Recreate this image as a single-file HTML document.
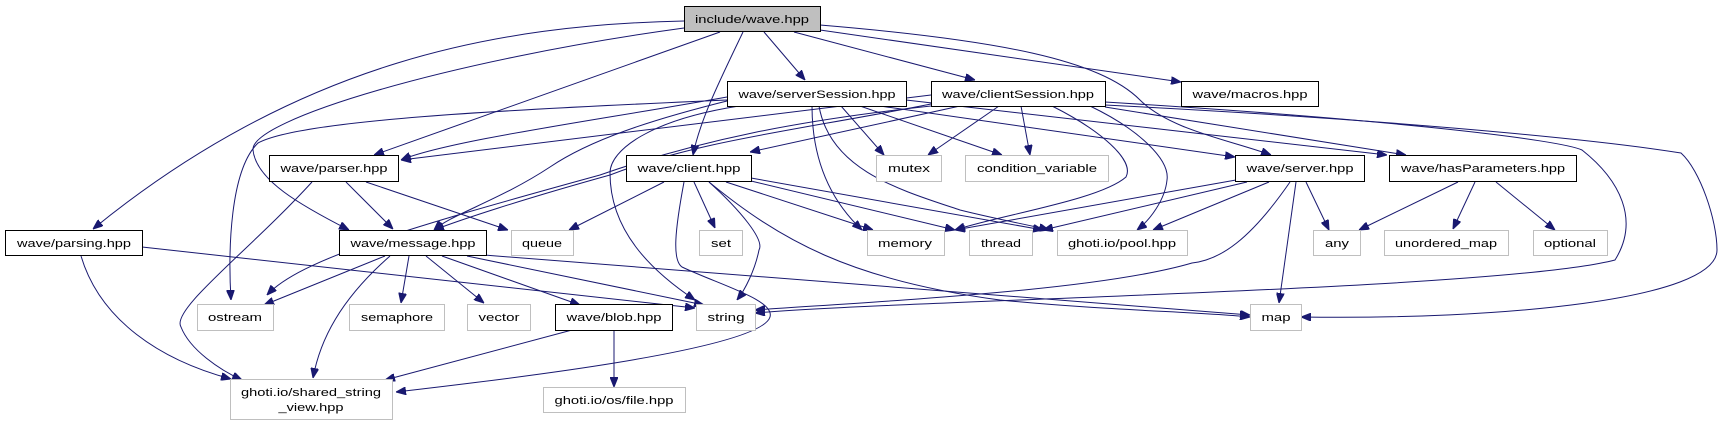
<!DOCTYPE html>
<html><head><meta charset="utf-8"><style>
html,body{margin:0;padding:0;background:#fff;}
svg{display:block;}
text{font-family:"Liberation Sans",sans-serif;font-size:11px;fill:#000;}
path{fill:none;stroke:#191970;stroke-width:1;}
</style></head><body>
<svg width="1724" height="425" viewBox="0 0 1724 425" xmlns="http://www.w3.org/2000/svg">
<defs>
<marker id="a" viewBox="0 0 10 8" refX="10" refY="4" markerWidth="10" markerHeight="8" markerUnits="userSpaceOnUse" orient="auto">
<path d="M0,0 L10,4 L0,8 Z" style="fill:#191970;stroke:#191970"/>
</marker>
</defs>
<g marker-end="url(#a)">
<!-- wave.hpp -->
<path d="M684,21 C500,25 300,60 93,229"/>
<path d="M684,28 C450,60 250,120 253,150 C256,180 300,205 349,230"/>
<path d="M720,32 L374,155"/>
<path d="M743,32 C720,80 700,120 693,155"/>
<path d="M764,32 L805,80"/>
<path d="M794,32 L975,80"/>
<path d="M820,30 L1181,82"/>
<path d="M820,25 C1000,40 1100,60 1140,100 C1170,130 1230,140 1271,155"/>
<!-- serverSession -->
<path d="M727,97 C600,120 450,140 401,160"/>
<path d="M731,100 C650,120 590,140 550,167 C500,200 450,215 434,230"/>
<path d="M727,100 C500,110 300,120 258,143 C230,170 228,250 231,300"/>
<path d="M739,106 C650,120 610,150 610,173 C610,230 650,270 695,300"/>
<path d="M841,106 L884,155"/>
<path d="M860,106 L1002,155"/>
<path d="M812,106 C812,160 830,200 862,230"/>
<path d="M819,106 C830,170 900,190 960,210 C1000,220 1030,225 1049,230"/>
<path d="M880,106 L1235,157"/>
<path d="M906,100 L1387,155"/>
<path d="M906,96 C1200,110 1400,120 1560,140 C1620,170 1650,260 1600,285 C1500,310 1300,330 1301,317" style="display:none"/>
<!-- clientSession -->
<path d="M960,106 L750,152"/>
<path d="M931,95 L401,160"/>
<path d="M931,104 C800,130 700,140 610,175 C520,200 460,220 434,230"/>
<path d="M931,106 C800,120 700,140 600,175 C400,230 300,260 267,295"/>
<path d="M999,106 L928,155"/>
<path d="M1021,106 L1030,155"/>
<path d="M1052,106 C1100,130 1135,160 1126,177 C1100,200 1000,215 955,230"/>
<path d="M1090,106 C1140,130 1170,160 1167,180 C1165,200 1150,220 1137,230"/>
<path d="M1105,107 L1406,155"/>
<path d="M1105,102 C1400,120 1560,140 1582,150 C1620,180 1640,220 1615,260 C1500,290 900,300 755,313"/>
<path d="M1105,105 C1400,120 1600,140 1681,153 C1700,170 1717,220 1717,250 C1717,300 1500,320 1301,317"/>
<!-- message -->
<path d="M385,256 L264,305"/>
<path d="M390,256 C340,300 320,340 313,378"/>
<path d="M409,256 L401,303"/>
<path d="M426,256 L484,303"/>
<path d="M442,256 L580,305"/>
<path d="M467,256 L704,305"/>
<path d="M484,255 L1250,315"/>
<!-- parser -->
<path d="M346,182 L393,229"/>
<path d="M366,182 L508,230"/>
<path d="M312,182 C250,250 170,310 181,327 C190,350 220,370 242,380"/>
<!-- parsing -->
<path d="M142,247 L695,308"/>
<path d="M81,256 C100,320 160,360 231,379"/>
<!-- client -->
<path d="M664,182 L569,230"/>
<path d="M694,182 L715,228"/>
<path d="M709,182 C740,210 765,240 759,250 C755,270 745,290 737,300"/>
<path d="M684,182 C675,230 672,260 682,267 C720,285 775,300 770,317 C760,350 500,380 396,392"/>
<path d="M726,182 L873,230"/>
<path d="M751,181 L955,230"/>
<path d="M751,178 L1043,230"/>
<path d="M709,182 C780,240 850,280 1000,300 C1100,310 1200,312 1250,317"/>
<!-- server -->
<path d="M1236,180 L955,230"/>
<path d="M1247,182 L1043,230"/>
<path d="M1269,182 L1153,230"/>
<path d="M1306,182 L1329,230"/>
<path d="M1296,182 L1279,303"/>
<path d="M1290,182 C1250,240 1220,260 1192,263 C1100,290 900,300 755,310"/>
<!-- hasParameters -->
<path d="M1458,182 L1359,230"/>
<path d="M1475,182 L1453,229"/>
<path d="M1496,182 L1555,230"/>
<!-- blob -->
<path d="M572,330 L385,380"/>
<path d="M614,330 L614,387"/>
</g>
<!-- nodes -->
<g style="stroke-width:1">
<rect x="684.5" y="6.5" width="136" height="25" fill="#bfbfbf" stroke="#000"/>
<rect x="727.5" y="81.5" width="179" height="25" fill="#fff" stroke="#000"/>
<rect x="931.5" y="81.5" width="174" height="25" fill="#fff" stroke="#000"/>
<rect x="1181.5" y="81.5" width="137" height="25" fill="#fff" stroke="#000"/>
<rect x="269.5" y="155.5" width="129" height="26" fill="#fff" stroke="#000"/>
<rect x="626.5" y="155.5" width="125" height="26" fill="#fff" stroke="#000"/>
<rect x="876.5" y="155.5" width="65" height="26" fill="#fff" stroke="#bfbfbf"/>
<rect x="965.5" y="155.5" width="143" height="26" fill="#fff" stroke="#bfbfbf"/>
<rect x="1235.5" y="155.5" width="129" height="26" fill="#fff" stroke="#000"/>
<rect x="1389.5" y="155.5" width="187" height="26" fill="#fff" stroke="#000"/>
<rect x="5.5" y="230.5" width="137" height="25" fill="#fff" stroke="#000"/>
<rect x="339.5" y="230.5" width="147" height="25" fill="#fff" stroke="#000"/>
<rect x="511.5" y="230.5" width="62" height="25" fill="#fff" stroke="#bfbfbf"/>
<rect x="699.5" y="230.5" width="43" height="25" fill="#fff" stroke="#bfbfbf"/>
<rect x="867.5" y="230.5" width="77" height="25" fill="#fff" stroke="#bfbfbf"/>
<rect x="969.5" y="230.5" width="63" height="25" fill="#fff" stroke="#bfbfbf"/>
<rect x="1057.5" y="230.5" width="130" height="25" fill="#fff" stroke="#bfbfbf"/>
<rect x="1313.5" y="230.5" width="47" height="25" fill="#fff" stroke="#bfbfbf"/>
<rect x="1384.5" y="230.5" width="124" height="25" fill="#fff" stroke="#bfbfbf"/>
<rect x="1533.5" y="230.5" width="74" height="25" fill="#fff" stroke="#bfbfbf"/>
<rect x="197.5" y="304.5" width="76" height="26" fill="#fff" stroke="#bfbfbf"/>
<rect x="349.5" y="304.5" width="95" height="26" fill="#fff" stroke="#bfbfbf"/>
<rect x="467.5" y="304.5" width="63" height="26" fill="#fff" stroke="#bfbfbf"/>
<rect x="555.5" y="304.5" width="117" height="26" fill="#fff" stroke="#000"/>
<rect x="696.5" y="304.5" width="59" height="26" fill="#fff" stroke="#bfbfbf"/>
<rect x="1250.5" y="304.5" width="51" height="26" fill="#fff" stroke="#bfbfbf"/>
<rect x="230.5" y="379.5" width="162" height="40" fill="#fff" stroke="#bfbfbf"/>
<rect x="543.5" y="387.5" width="142" height="25" fill="#fff" stroke="#bfbfbf"/>
</g>
<g text-anchor="middle">
<text x="752" y="23" textLength="114" lengthAdjust="spacingAndGlyphs">include/wave.hpp</text>
<text x="817" y="98" textLength="157" lengthAdjust="spacingAndGlyphs">wave/serverSession.hpp</text>
<text x="1018" y="98" textLength="152" lengthAdjust="spacingAndGlyphs">wave/clientSession.hpp</text>
<text x="1250" y="98" textLength="115" lengthAdjust="spacingAndGlyphs">wave/macros.hpp</text>
<text x="334" y="172" textLength="107" lengthAdjust="spacingAndGlyphs">wave/parser.hpp</text>
<text x="689" y="172" textLength="103" lengthAdjust="spacingAndGlyphs">wave/client.hpp</text>
<text x="909" y="172" textLength="42" lengthAdjust="spacingAndGlyphs">mutex</text>
<text x="1037" y="172" textLength="120" lengthAdjust="spacingAndGlyphs">condition_variable</text>
<text x="1300" y="172" textLength="107" lengthAdjust="spacingAndGlyphs">wave/server.hpp</text>
<text x="1483" y="172" textLength="164" lengthAdjust="spacingAndGlyphs">wave/hasParameters.hpp</text>
<text x="74" y="247" textLength="114" lengthAdjust="spacingAndGlyphs">wave/parsing.hpp</text>
<text x="413" y="247" textLength="125" lengthAdjust="spacingAndGlyphs">wave/message.hpp</text>
<text x="542" y="247" textLength="40" lengthAdjust="spacingAndGlyphs">queue</text>
<text x="721" y="247" textLength="20" lengthAdjust="spacingAndGlyphs">set</text>
<text x="905" y="247" textLength="54" lengthAdjust="spacingAndGlyphs">memory</text>
<text x="1001" y="247" textLength="40" lengthAdjust="spacingAndGlyphs">thread</text>
<text x="1122" y="247" textLength="108" lengthAdjust="spacingAndGlyphs">ghoti.io/pool.hpp</text>
<text x="1337" y="247" textLength="24" lengthAdjust="spacingAndGlyphs">any</text>
<text x="1446" y="247" textLength="102" lengthAdjust="spacingAndGlyphs">unordered_map</text>
<text x="1570" y="247" textLength="52" lengthAdjust="spacingAndGlyphs">optional</text>
<text x="235" y="321" textLength="54" lengthAdjust="spacingAndGlyphs">ostream</text>
<text x="397" y="321" textLength="72" lengthAdjust="spacingAndGlyphs">semaphore</text>
<text x="499" y="321" textLength="41" lengthAdjust="spacingAndGlyphs">vector</text>
<text x="614" y="321" textLength="95" lengthAdjust="spacingAndGlyphs">wave/blob.hpp</text>
<text x="726" y="321" textLength="37" lengthAdjust="spacingAndGlyphs">string</text>
<text x="1276" y="321" textLength="29" lengthAdjust="spacingAndGlyphs">map</text>
<text x="311" y="396" textLength="140" lengthAdjust="spacingAndGlyphs">ghoti.io/shared_string</text>
<text x="311" y="411" textLength="65" lengthAdjust="spacingAndGlyphs">_view.hpp</text>
<text x="614" y="404" textLength="119" lengthAdjust="spacingAndGlyphs">ghoti.io/os/file.hpp</text>
</g>
</svg>
</body></html>
